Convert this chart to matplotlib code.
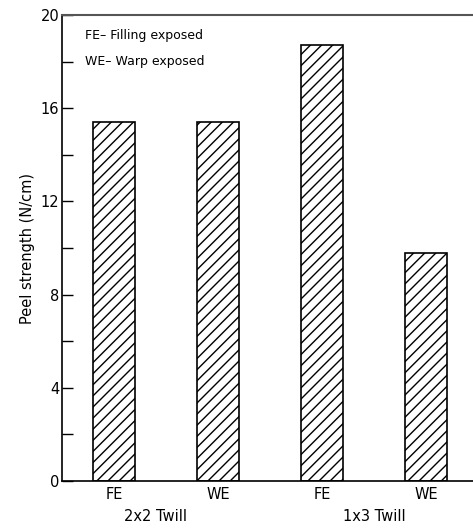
import matplotlib.pyplot as plt

# peel strength values
bar_labels = ['FE', 'WE', 'FE', 'WE']
strength = [15.4, 15.4, 18.7, 9.8]
groups = ['2x2 Twill', '1x3 Twill']
group_pos = [0.4, 2.5]

plt.rcParams['font.family'] = 'DejaVu Sans'
plt.rcParams['hatch.linewidth'] = 1.0

fig = plt.figure(figsize=(4.73, 5.30), dpi=100)
ax = fig.add_axes([62 / 473, 1 - 481 / 530, 1 - 62 / 473, (481 - 15) / 530])

x = range(len(strength))
ax.bar(x, strength, width=0.4, color='white', edgecolor='black', hatch='///', linewidth=1.2)

ax.set_xlim(-0.5, 3.45)
ax.set_ylim(0, 20)
ax.set_yticks([0, 4, 8, 12, 16, 20])
ax.set_yticks([2, 6, 10, 14, 18], minor=True)
ax.tick_params(axis='y', which='both', direction='in', length=8, width=1, labelsize=10.5, pad=2)
ax.set_xticks(list(x))
ax.set_xticklabels(bar_labels, fontsize=10.5)
ax.tick_params(axis='x', length=0, pad=4)

for pos, name in zip(group_pos, groups):
    ax.text(pos, -0.06, name, transform=ax.get_xaxis_transform(), ha='center', va='top', fontsize=10.5)

ax.set_ylabel('Peel strength (N/cm)', fontsize=10.5, labelpad=4)

ax.spines['right'].set_visible(False)
ax.spines['top'].set_color('#555555')
ax.spines['top'].set_linewidth(1.5)
ax.spines['left'].set_linewidth(1.2)
ax.spines['bottom'].set_linewidth(1.2)

ax.text(0.055, 0.97, 'FE\u2013 Filling exposed', transform=ax.transAxes, fontsize=9, va='top')
ax.text(0.055, 0.915, 'WE\u2013 Warp exposed', transform=ax.transAxes, fontsize=9, va='top')

fig.savefig('out.png', dpi=100)
